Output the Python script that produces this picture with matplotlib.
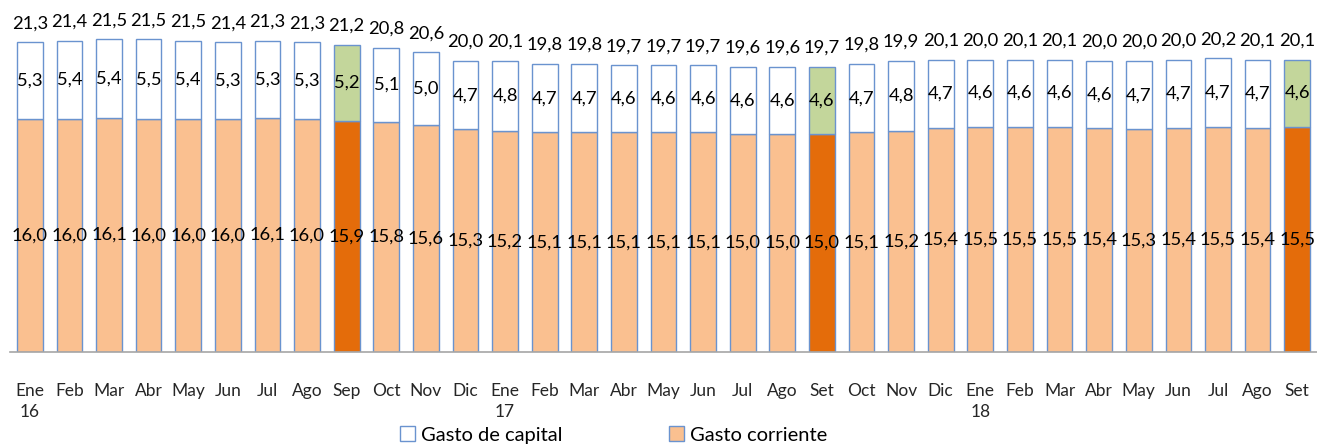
import matplotlib
matplotlib.use("Agg")
import matplotlib.pyplot as plt
from matplotlib.patches import Patch

months = ["Ene\n16", "Feb", "Mar", "Abr", "May", "Jun", "Jul", "Ago", "Sep", "Oct", "Nov", "Dic",
          "Ene\n17", "Feb", "Mar", "Abr", "May", "Jun", "Jul", "Ago", "Set", "Oct", "Nov", "Dic",
          "Ene\n18", "Feb", "Mar", "Abr", "May", "Jun", "Jul", "Ago", "Set"]
gasto_corriente = [16.0, 16.0, 16.1, 16.0, 16.0, 16.0, 16.1, 16.0, 15.9, 15.8, 15.6, 15.3,
                   15.2, 15.1, 15.1, 15.1, 15.1, 15.1, 15.0, 15.0, 15.0, 15.1, 15.2, 15.4,
                   15.5, 15.5, 15.5, 15.4, 15.3, 15.4, 15.5, 15.4, 15.5]
gasto_capital = [5.3, 5.4, 5.4, 5.5, 5.4, 5.3, 5.3, 5.3, 5.2, 5.1, 5.0, 4.7,
                 4.8, 4.7, 4.7, 4.6, 4.6, 4.6, 4.6, 4.6, 4.6, 4.7, 4.8, 4.7,
                 4.6, 4.6, 4.6, 4.6, 4.7, 4.7, 4.7, 4.7, 4.6]
totales = [21.3, 21.4, 21.5, 21.5, 21.5, 21.4, 21.3, 21.3, 21.2, 20.8, 20.6, 20.0,
           20.1, 19.8, 19.8, 19.7, 19.7, 19.7, 19.6, 19.6, 19.7, 19.8, 19.9, 20.1,
           20.0, 20.1, 20.1, 20.0, 20.0, 20.0, 20.2, 20.1, 20.1]
highlight = [8, 20, 32]

C_CUR = "#FAC090"
C_CUR_H = "#E46C0A"
C_CAP = "#FFFFFF"
C_CAP_H = "#C3D69B"
EDGE = "#6A93CF"

plt.rcParams['font.family'] = ['Lato', 'DejaVu Sans']

fig = plt.figure(figsize=(13.17, 4.46), dpi=100)
ax = fig.add_axes([10/1317, (446-352)/446, 1 - 10/1317, 352/446])

x = list(range(len(months)))
cur_colors = [C_CUR_H if i in highlight else C_CUR for i in x]
cap_colors = [C_CAP_H if i in highlight else C_CAP for i in x]
w = 0.65
ax.bar(x, gasto_corriente, width=w, color=cur_colors, edgecolor=EDGE, linewidth=1.0)
ax.bar(x, gasto_capital, width=w, bottom=gasto_corriente, color=cap_colors, edgecolor=EDGE, linewidth=1.0)

def fmt(v):
    return f"{v:.1f}".replace(".", ",")

FS = 13.2
for i in x:
    c = gasto_corriente[i]
    k = gasto_capital[i]
    ax.text(i, c / 2, fmt(c), ha="center", va="center", fontsize=FS, color="black")
    ax.text(i, c + k / 2, fmt(k), ha="center", va="center", fontsize=FS, color="black")
    ax.annotate(fmt(totales[i]), (i, c + k), xytext=(0, 11), textcoords="offset pixels",
                ha="center", va="bottom", fontsize=FS, color="black")

ax.set_xlim(-0.5, 32.5)
ax.set_ylim(0, 24.2)
ax.set_xticks(x)
ax.set_xticklabels(months, fontsize=12.5, color="#262626", linespacing=1.45)
ax.tick_params(axis="x", length=0, pad=22)
ax.set_yticks([])
for s in ["top", "right", "left"]:
    ax.spines[s].set_visible(False)
ax.spines["bottom"].set_color("#A6A6A6")
ax.spines["bottom"].set_linewidth(1.2)

handles = [Patch(facecolor=C_CAP, edgecolor=EDGE, label="Gasto de capital"),
           Patch(facecolor=C_CUR, edgecolor=EDGE, label="Gasto corriente")]
fig.legend(handles=handles, loc="center", bbox_to_anchor=(0.466, 0.025), ncol=2, frameon=False,
           fontsize=14.5, handlelength=0.75, handleheight=0.75, handletextpad=0.3, columnspacing=5.3,
           borderpad=0)

fig.savefig("out.png", dpi=100)
